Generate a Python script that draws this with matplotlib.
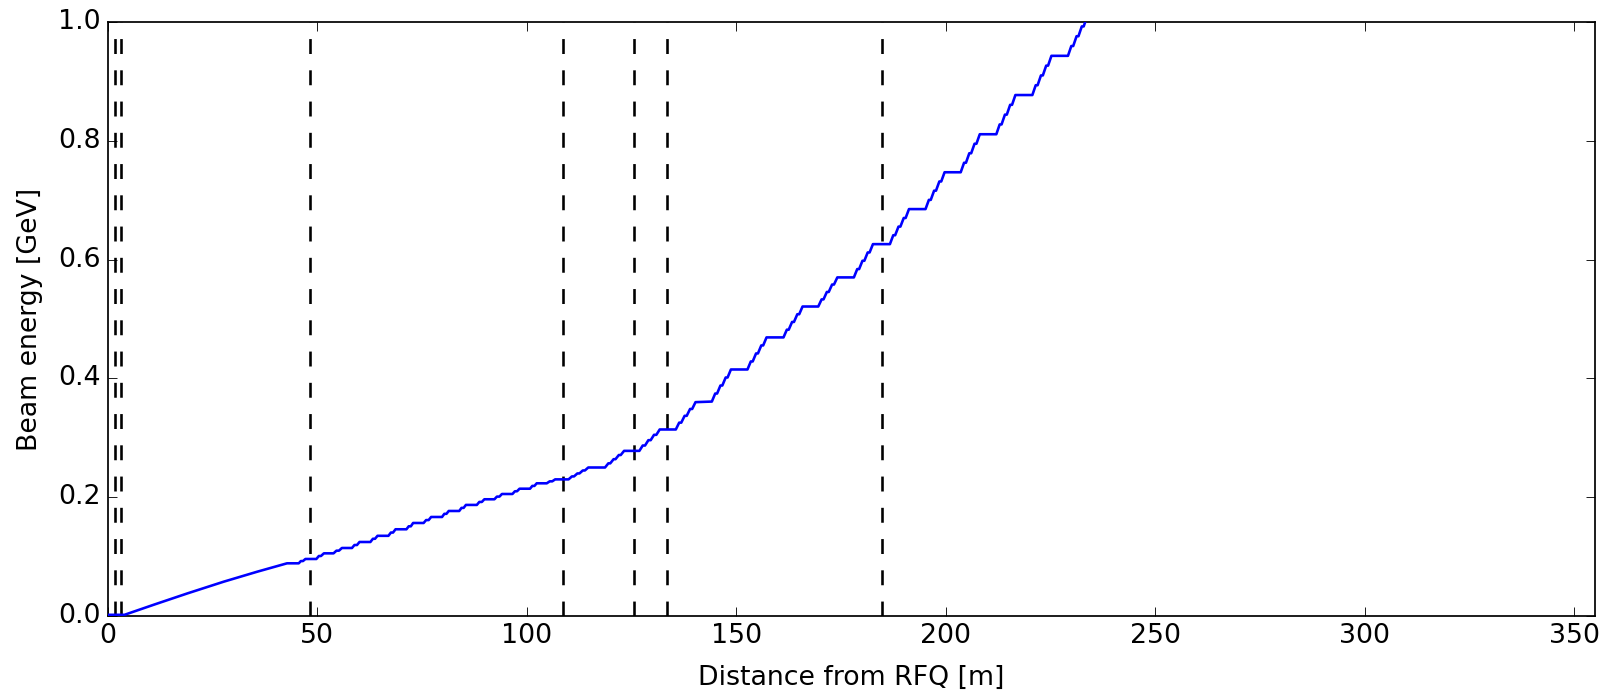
import matplotlib
matplotlib.use("Agg")
import matplotlib.pyplot as plt

plt.style.use("classic")
plt.rcParams["font.size"] = 15.4
plt.rcParams["xtick.major.size"] = 5
plt.rcParams["ytick.major.size"] = 5

# Section boundaries (vertical dashed lines) [m]
boundaries = [1.7, 3.1, 48.2, 108.7, 125.7, 133.6, 184.7]

# Low-energy section (smooth rise)
sec1_x = [0.0, 4.0, 11.0, 19.0, 27.7, 35.7, 42.8]
sec1_y = [0.002, 0.002, 0.019, 0.038, 0.0578, 0.0746, 0.0887]

# Spoke-like section (plateau + two small steps per period)
sec2_x = [45.6, 46.1, 46.6, 47.2, 49.8, 50.4, 50.9, 51.6, 53.9, 54.6, 55.2, 55.9,
          58.3, 58.9, 59.5, 60.1, 62.7, 63.3, 63.8, 64.4, 67.0, 67.6, 68.1, 68.7,
          71.3, 71.85, 72.35, 72.9, 75.4, 76.0, 76.6, 77.2, 79.8, 80.35, 80.85, 81.4,
          83.9, 84.45, 84.95, 85.5, 88.1, 88.7, 89.3, 89.9, 92.3, 92.9, 93.5, 94.1,
          96.6, 97.2, 97.7, 98.3, 100.8, 101.35, 101.85, 102.4, 104.8, 105.5, 106.1, 106.8]
sec2_y = [0.0887, 0.0925, 0.0925, 0.096, 0.096, 0.101, 0.101, 0.1055, 0.1055, 0.110, 0.110, 0.1145,
          0.1145, 0.1195, 0.1195, 0.1246, 0.1246, 0.130, 0.130, 0.135, 0.135, 0.1405, 0.1405, 0.146,
          0.146, 0.151, 0.151, 0.1566, 0.1566, 0.1615, 0.1615, 0.1667, 0.1667, 0.172, 0.172, 0.1768,
          0.1768, 0.182, 0.182, 0.187, 0.187, 0.192, 0.192, 0.1965, 0.1965, 0.201, 0.201, 0.2054,
          0.2054, 0.210, 0.210, 0.2143, 0.2143, 0.219, 0.219, 0.2234, 0.2234, 0.2267, 0.2267, 0.230]

# Medium section (plateau + four cavity steps)
sec3_x = [110.0, 110.8, 111.3, 112.1, 112.6, 113.4, 113.9, 114.7,
          118.7, 119.5, 119.95, 120.75, 121.2, 122.0, 122.45, 123.25,
          126.9, 127.7, 128.25, 129.05, 129.6, 130.4, 130.95, 131.75,
          135.6, 136.4, 136.9, 137.7, 138.2, 139.0, 139.5, 140.3]
sec3_y = [0.230, 0.235, 0.235, 0.240, 0.240, 0.245, 0.245, 0.250,
          0.250, 0.257, 0.257, 0.264, 0.264, 0.271, 0.271, 0.278,
          0.278, 0.287, 0.287, 0.296, 0.296, 0.305, 0.305, 0.314,
          0.314, 0.3255, 0.3255, 0.337, 0.337, 0.3485, 0.3485, 0.360]

# High-energy section (plateau + four cavity steps)
sec4_x = [144.2, 145.0, 145.45, 146.25, 146.7, 147.5, 147.95, 148.75,
          152.7, 153.5, 153.95, 154.75, 155.2, 156.0, 156.45, 157.25,
          161.3, 162.1, 162.55, 163.35, 163.8, 164.6, 165.05, 165.85,
          169.6, 170.4, 170.85, 171.65, 172.1, 172.9, 173.35, 174.15,
          178.1, 178.9, 179.35, 180.15, 180.6, 181.4, 181.85, 182.65,
          186.7, 187.5, 187.95, 188.75, 189.2, 190.0, 190.45, 191.25,
          195.2, 196.0, 196.45, 197.25, 197.7, 198.5, 198.95, 199.75,
          203.6, 204.4, 204.85, 205.65, 206.1, 206.9, 207.35, 208.15,
          212.1, 212.9, 213.35, 214.15, 214.6, 215.4, 215.85, 216.65,
          220.7, 221.5, 221.95, 222.75, 223.2, 224.0, 224.45, 225.25,
          229.2, 230.0, 230.45, 231.25, 231.7, 232.5, 232.95, 233.75, 238.0]
sec4_y = [0.361, 0.3745, 0.3745, 0.388, 0.388, 0.4015, 0.4015, 0.415,
          0.415, 0.4285, 0.4285, 0.442, 0.442, 0.4555, 0.4555, 0.469,
          0.469, 0.482, 0.482, 0.495, 0.495, 0.508, 0.508, 0.521,
          0.521, 0.533, 0.533, 0.5455, 0.5455, 0.558, 0.558, 0.570,
          0.570, 0.584, 0.584, 0.598, 0.598, 0.612, 0.612, 0.626,
          0.626, 0.641, 0.641, 0.6555, 0.6555, 0.670, 0.670, 0.685,
          0.685, 0.7005, 0.7005, 0.716, 0.716, 0.7315, 0.7315, 0.747,
          0.747, 0.763, 0.763, 0.779, 0.779, 0.795, 0.795, 0.811,
          0.811, 0.8275, 0.8275, 0.844, 0.844, 0.8605, 0.8605, 0.877,
          0.877, 0.8935, 0.8935, 0.910, 0.910, 0.9265, 0.9265, 0.943,
          0.943, 0.9595, 0.9595, 0.976, 0.976, 0.9925, 0.9925, 1.009, 1.009]

xticks = [0, 50, 100, 150, 200, 250, 300, 350]
yticks = [0.0, 0.2, 0.4, 0.6, 0.8, 1.0]

dist = sec1_x + sec2_x + sec3_x + sec4_x
energy = sec1_y + sec2_y + sec3_y + sec4_y

fig = plt.figure(figsize=(12.88, 5.544), dpi=125, facecolor="white")
ax = fig.add_axes([0.0669, 0.1111, 0.9907 - 0.0669, 0.9683 - 0.1111])
ax.set_facecolor("white")

for b in boundaries:
    ax.plot([b, b], [0, 1], color="k", linestyle="--", linewidth=1.5,
            dashes=(8.6, 9.4))
ax.plot(dist, energy, color="b", linewidth=1.5, zorder=3)

ax.set_xlim(0, 355)
ax.set_ylim(0, 1.0)
ax.set_xticks(xticks)
ax.set_yticks(yticks)
ax.set_yticklabels(["%.1f" % v for v in yticks])
ax.set_xlabel("Distance from RFQ [m]", labelpad=9)
ax.set_ylabel("Beam energy [GeV]", labelpad=9)

fig.savefig("out.png", dpi=125, facecolor="white")
